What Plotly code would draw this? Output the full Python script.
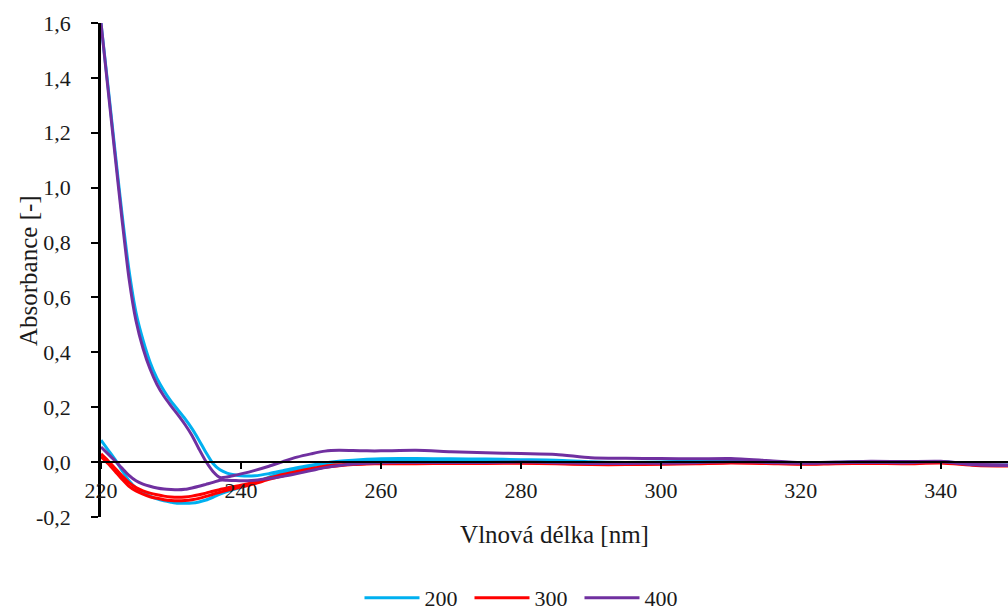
import plotly.graph_objects as go

# Wavelength grid [nm]
wavelength = [220, 221, 222, 223, 224, 225, 226, 227, 228, 229, 230, 231, 232, 233, 234,
              235, 236, 237, 238, 239, 240, 242, 244, 246, 248, 250, 252, 254, 256, 258,
              260, 265, 270, 275, 280, 285, 290, 295, 300, 305, 310, 315, 320, 325, 330,
              335, 340, 345, 350]

# Absorbance spectra, two measurements per series
abs_200_a = [1.600, 1.370, 1.135, 0.905, 0.700, 0.545, 0.445, 0.365, 0.305, 0.260, 0.222,
             0.190, 0.158, 0.122, 0.080, 0.035, -0.005, -0.028, -0.040, -0.046, -0.050,
             -0.050, -0.042, -0.031, -0.020, -0.011, -0.003, 0.003, 0.007, 0.010, 0.012,
             0.013, 0.012, 0.011, 0.009, 0.007, 0.001, -0.001, 0.000, 0.004, 0.006, 0.001,
             -0.004, -0.001, 0.001, 0.000, 0.002, -0.009, -0.011]
abs_200_b = [0.080, 0.045, 0.010, -0.030, -0.068, -0.094, -0.110, -0.124, -0.134, -0.141,
             -0.146, -0.150, -0.150, -0.149, -0.145, -0.138, -0.128, -0.117, -0.107, -0.099,
             -0.092, -0.075, -0.055, -0.038, -0.025, -0.015, -0.006, 0.000, 0.004, 0.006,
             0.008, 0.009, 0.009, 0.008, 0.006, 0.004, -0.001, -0.002, -0.001, 0.003, 0.005,
             0.000, -0.005, -0.002, 0.000, -0.001, 0.001, -0.010, -0.012]

abs_300_a = [0.030, 0.005, -0.022, -0.050, -0.075, -0.093, -0.105, -0.113, -0.119, -0.124,
             -0.127, -0.128, -0.127, -0.124, -0.119, -0.113, -0.106, -0.100, -0.094, -0.089,
             -0.084, -0.072, -0.058, -0.045, -0.034, -0.024, -0.015, -0.010, -0.007, -0.005,
             -0.004, -0.004, -0.003, -0.003, -0.002, -0.004, -0.007, -0.007, -0.006, -0.004,
             -0.001, -0.003, -0.006, -0.004, -0.003, -0.004, -0.001, -0.010, -0.012]
abs_300_b = [0.020, -0.005, -0.033, -0.062, -0.088, -0.105, -0.117, -0.126, -0.132, -0.137,
             -0.140, -0.141, -0.140, -0.137, -0.132, -0.125, -0.117, -0.110, -0.103, -0.097,
             -0.091, -0.078, -0.063, -0.050, -0.038, -0.028, -0.019, -0.013, -0.009, -0.007,
             -0.006, -0.006, -0.005, -0.005, -0.004, -0.006, -0.009, -0.009, -0.008, -0.006,
             -0.003, -0.005, -0.008, -0.006, -0.005, -0.006, -0.003, -0.012, -0.014]

abs_400_a = [1.600, 1.360, 1.120, 0.885, 0.670, 0.515, 0.415, 0.340, 0.283, 0.240, 0.205,
             0.172, 0.137, 0.097, 0.048, 0.002, -0.034, -0.056, -0.054, -0.049, -0.043,
             -0.030, -0.015, 0.002, 0.018, 0.030, 0.040, 0.043, 0.042, 0.041, 0.041, 0.043,
             0.038, 0.034, 0.031, 0.028, 0.016, 0.014, 0.013, 0.012, 0.013, 0.006, -0.002,
             0.000, 0.003, 0.002, 0.003, -0.009, -0.011]
abs_400_b = [0.055, 0.030, 0.005, -0.022, -0.048, -0.068, -0.080, -0.088, -0.094, -0.098,
             -0.100, -0.101, -0.099, -0.094, -0.088, -0.081, -0.074, -0.066, -0.066, -0.067,
             -0.068, -0.066, -0.060, -0.052, -0.042, -0.031, -0.020, -0.012, -0.007, -0.004,
             -0.002, -0.001, -0.001, -0.001, 0.000, -0.002, -0.005, -0.005, -0.004, -0.002,
             0.001, -0.001, -0.004, -0.002, -0.001, -0.002, 0.001, -0.010, -0.012]

series_names = ["200", "300", "400"]
series_colors = ["#00B0F0", "#FF0000", "#7030A0"]
series_data = [(abs_200_a, abs_200_b), (abs_300_a, abs_300_b), (abs_400_a, abs_400_b)]

x_tick_vals = [220, 240, 260, 280, 300, 320, 340]
x_tick_text = ["220", "240", "260", "280", "300", "320", "340"]
y_tick_vals = [-0.2, 0.0, 0.2, 0.4, 0.6, 0.8, 1.0, 1.2, 1.4, 1.6]
y_tick_text = ["-0,2", "0,0", "0,2", "0,4", "0,6", "0,8", "1,0", "1,2", "1,4", "1,6"]

X_RANGE = [220, 349.6]
Y_RANGE = [-0.2, 1.6]
FONT = "Liberation Serif"
TXT = "#1a1a1a"

fig = go.Figure()
for name, color, runs in zip(series_names, series_colors, series_data):
    for i, values in enumerate(runs):
        fig.add_trace(go.Scatter(
            x=wavelength, y=values, mode="lines", name=name,
            legendgroup=name, showlegend=(i == 0),
            line=dict(color=color, width=3, shape="spline", smoothing=0.7),
            hoverinfo="skip",
        ))

# x axis sits on the zero line of the absorbance scale
zero_pos = (0 - Y_RANGE[0]) / (Y_RANGE[1] - Y_RANGE[0])

fig.update_layout(
    width=1008, height=612,
    margin=dict(l=101, r=0, t=23, b=95, autoexpand=False),
    paper_bgcolor="white", plot_bgcolor="white",
    font=dict(family=FONT, size=22, color=TXT),
    xaxis=dict(
        range=X_RANGE, tickvals=x_tick_vals, ticktext=x_tick_text,
        anchor="free", position=zero_pos,
        showgrid=False, zeroline=False,
        showline=True, linecolor="black", linewidth=2,
        ticks="outside", ticklen=6, tickwidth=2, tickcolor="black",
        ticklabelstandoff=2,
        tickfont=dict(family=FONT, size=22, color=TXT),
        title=dict(text="Vlnová délka [nm]", standoff=23,
                   font=dict(family=FONT, size=25, color=TXT)),
    ),
    xaxis2=dict(
        range=X_RANGE, overlaying="x", anchor="free", position=zero_pos,
        tickvals=x_tick_vals, showticklabels=False, showgrid=False, zeroline=False,
        showline=False, ticks="inside", ticklen=6, tickwidth=2, tickcolor="black",
    ),
    yaxis=dict(
        range=Y_RANGE, tickvals=y_tick_vals, ticktext=y_tick_text,
        showgrid=False, zeroline=False,
        showline=True, linecolor="black", linewidth=2.5,
        ticks="outside", ticklen=7, tickwidth=2, tickcolor="black",
        ticklabelstandoff=16,
        tickfont=dict(family=FONT, size=22, color=TXT),
    ),
    yaxis2=dict(
        range=Y_RANGE, overlaying="y", anchor="x",
        tickvals=y_tick_vals, showticklabels=False, showgrid=False, zeroline=False,
        showline=False, ticks="inside", ticklen=7, tickwidth=2, tickcolor="black",
    ),
    legend=dict(
        orientation="h", x=0.285, xanchor="left", y=-0.164, yanchor="middle",
        itemwidth=55, entrywidth=40, entrywidthmode="pixels",
        font=dict(family=FONT, size=22, color=TXT), bgcolor="rgba(0,0,0,0)",
    ),
    annotations=[dict(
        text="Absorbance [-]", textangle=-90, showarrow=False,
        xref="paper", yref="paper", x=-0.0805, y=0.5,
        xanchor="center", yanchor="middle",
        font=dict(family=FONT, size=25, color=TXT),
    )],
    showlegend=True,
)

fig.write_html("out.html")
